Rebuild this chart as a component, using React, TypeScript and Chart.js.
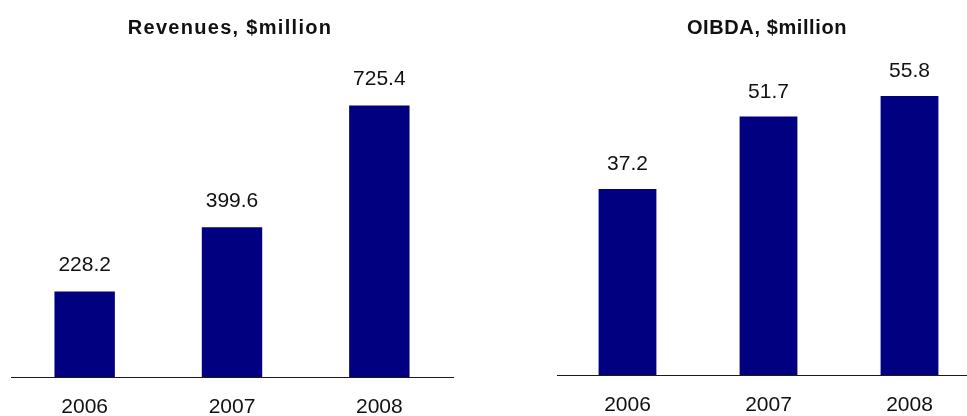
import React, { useEffect, useRef } from "react";
import { Chart, registerables } from "chart.js";

Chart.register(...registerables);

const years = ["2006", "2007", "2008"];
const revenues = [228.2, 399.6, 725.4];
const oibda = [37.2, 51.7, 55.8];
const revenueTitle = "Revenues, $million";
const oibdaTitle = "OIBDA, $million";

const FONT = '"Liberation Sans", Arial, sans-serif';
const BAR = "#000080";

const spacedTitle = {
  id: "spacedTitle",
  afterDraw(chart: any, _args: any, opts: any) {
    if (!opts || !opts.text) return;
    const ctx = chart.ctx;
    ctx.save();
    ctx.font = `bold ${opts.size}px ${FONT}`;
    (ctx as any).letterSpacing = `${opts.spacing}px`;
    ctx.fillStyle = "#111111";
    ctx.textAlign = "center";
    ctx.textBaseline = "alphabetic";
    ctx.fillText(opts.text, opts.x, opts.y);
    ctx.restore();
  },
};

const valueLabels = {
  id: "valueLabels",
  afterDatasetsDraw(chart: any, _args: any, opts: any) {
    const ctx = chart.ctx;
    ctx.save();
    ctx.font = `21px ${FONT}`;
    ctx.fillStyle = "#111111";
    ctx.textAlign = "center";
    ctx.textBaseline = "alphabetic";
    chart.data.datasets.forEach((ds: any, di: number) => {
      const meta = chart.getDatasetMeta(di);
      meta.data.forEach((bar: any, i: number) => {
        const v = ds.data[i] as number;
        ctx.fillText(v.toFixed(1), bar.x, bar.y - (opts.offset ?? 20));
      });
    });
    ctx.restore();
  },
};

function makeConfig(
  values: number[],
  yMax: number,
  padding: { left: number; right: number; top: number; bottom: number },
  axisHeight: number,
  tickPad: number,
  labelOffset: number,
  title: { text: string; x: number; y: number; size: number; spacing: number }
): any {
  return {
    type: "bar",
    data: {
      labels: years,
      datasets: [
        {
          data: values,
          backgroundColor: BAR,
          borderWidth: 0,
          barPercentage: 0.41,
          categoryPercentage: 1,
        },
      ],
    },
    options: {
      responsive: false,
      animation: false,
      devicePixelRatio: 1,
      layout: { padding },
      plugins: {
        legend: { display: false },
        title: { display: false },
        tooltip: { enabled: false },
        valueLabels: { offset: labelOffset },
        spacedTitle: title,
      },
      scales: {
        x: {
          grid: { display: false, drawTicks: false },
          border: { display: true, color: "#1a1a1a", width: 1 },
          ticks: {
            color: "#111111",
            padding: tickPad,
            font: { family: FONT, size: 21, lineHeight: 1.2 },
          },
          afterFit: (scale: any) => {
            scale.height = axisHeight;
          },
        },
        y: {
          display: false,
          min: 0,
          max: yMax,
        },
      },
    },
    plugins: [valueLabels, spacedTitle],
  };
}

function BarPanel(props: { config: any; left: number; width: number; height: number }) {
  const ref = useRef<HTMLCanvasElement | null>(null);
  useEffect(() => {
    if (!ref.current) return;
    const chart = new Chart(ref.current, props.config);
    return () => chart.destroy();
  }, []);
  return (
    <canvas
      ref={ref}
      width={props.width}
      height={props.height}
      style={{ position: "absolute", left: props.left, top: 0, display: "block", width: props.width, height: props.height }}
    />
  );
}

export default function App() {
  const leftCfg = makeConfig(
    revenues,
    900,
    { left: 11, right: 27, top: 40, bottom: 0 },
    39,
    18,
    20.5,
    { text: revenueTitle, x: 230, y: 34, size: 20, spacing: 1.3 }
  );
  const rightCfg = makeConfig(
    oibda,
    67,
    { left: 17, right: 20, top: 40, bottom: 0 },
    41,
    17.5,
    19,
    { text: oibdaTitle, x: 227, y: 34, size: 20, spacing: 0.6 }
  );
  return (
    <div
      style={{
        position: "fixed",
        left: 0,
        top: 0,
        width: 967,
        height: 416,
        overflow: "hidden",
        background: "#ffffff",
      }}
    >
      <BarPanel config={leftCfg} left={0} width={480} height={416} />
      <BarPanel config={rightCfg} left={540} width={460} height={416} />
    </div>
  );
}
